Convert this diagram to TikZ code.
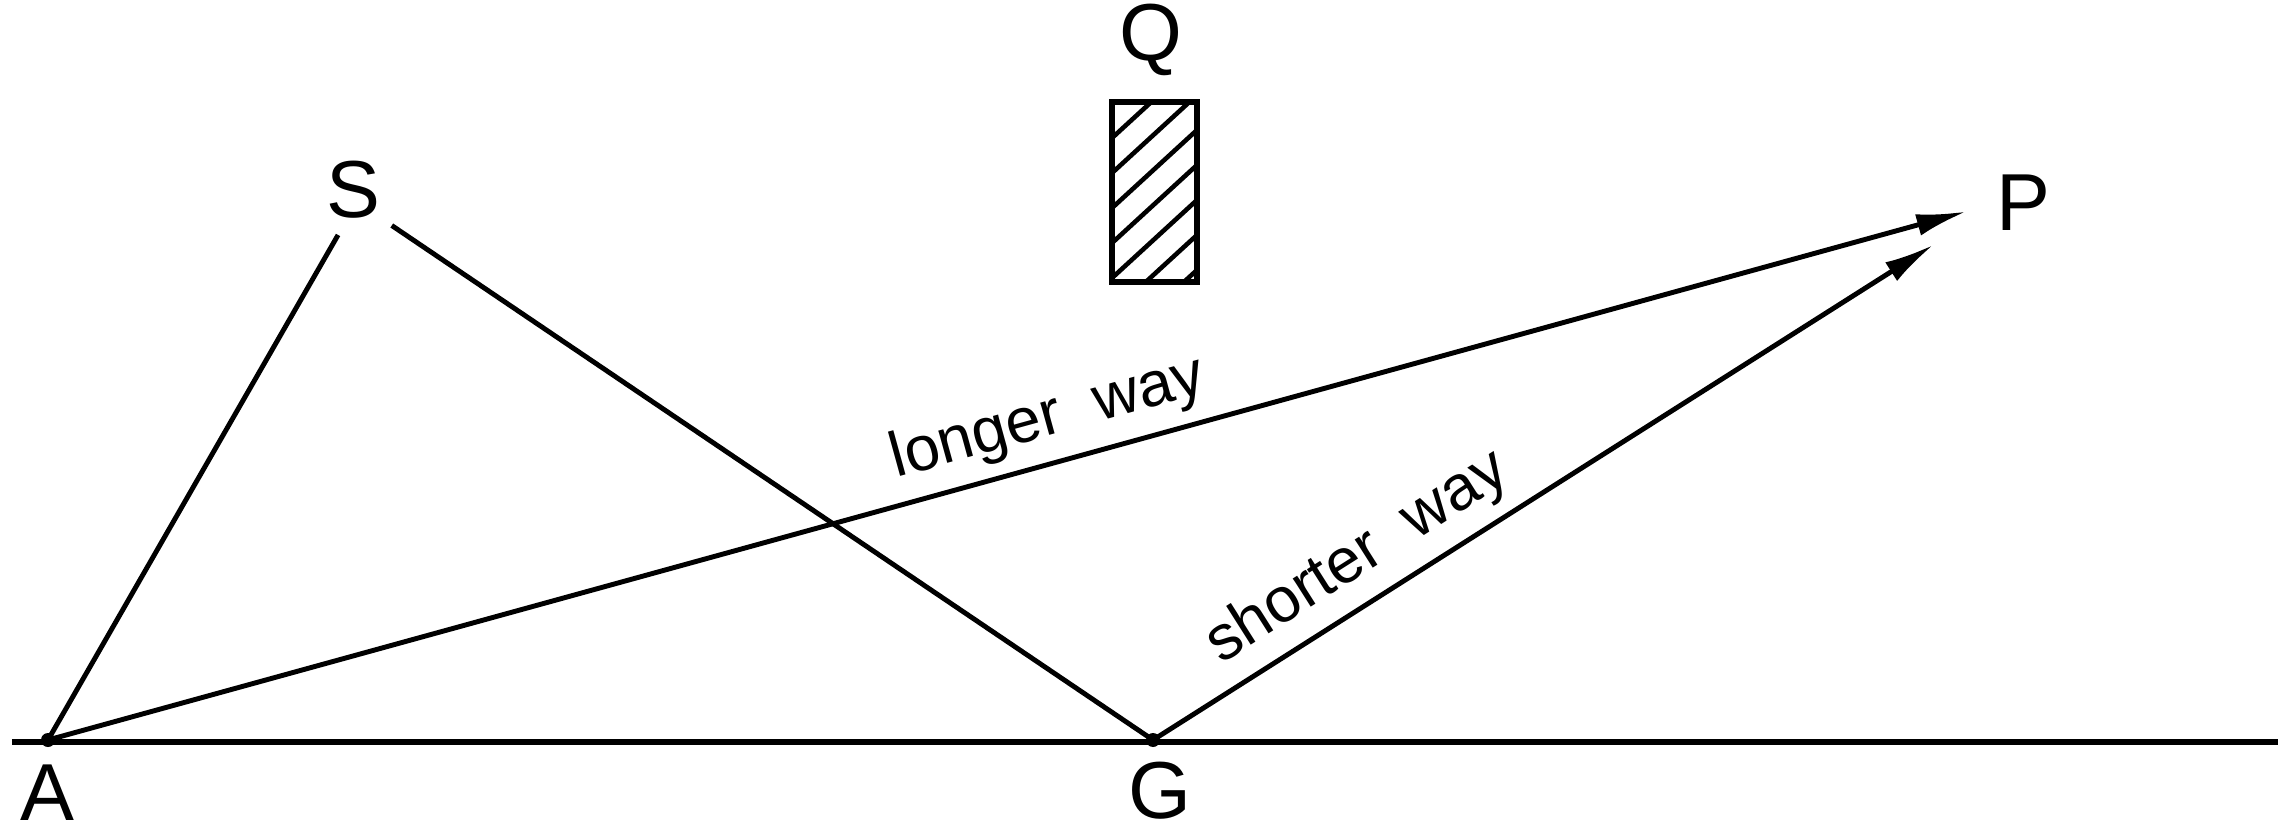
\documentclass[tikz,border=0pt]{standalone}
\usepackage{fontspec}
\setmainfont{Liberation Sans}
\usetikzlibrary{arrows.meta}

\begin{document}
\begin{tikzpicture}[
  pt/.style={font=\fontsize{23}{23}\selectfont,inner sep=0pt},
  way/.style={font=\fontsize{18}{18}\selectfont,sloped,above},
  ray/.style={line width=1.4pt},
  tip/.style={-{Latex[length=5mm,width=2.2mm]}}]
\useasboundingbox (0,0) rectangle (22.90,8.34);
\coordinate (A) at (0.48,0.94);
\coordinate (G) at (11.53,0.94);
\coordinate (s) at (3.57,6.32);
\coordinate (p) at (20.01,6.32);
\node[pt] (a) at (0.47,0.41) {A};
\node[pt] (g) at (11.60,0.43) {G};
\node[pt] (S) at (3.53,6.44) {S};
\node[pt] (P) at (20.23,6.31) {P};
\node[pt] (Q) at (11.51,7.94) {Q};
\draw[line width=1.8pt] (0.12,0.92) -- (22.78,0.92);
\draw[ray,shorten <=0.38cm] (s) -- (A);
\draw[ray,shorten <=0.42cm] (s) -- (G);
\draw[ray,tip,shorten >=0.36cm] (A) -- (p) node[way,pos=0.518]{longer\ \ way};
\draw[ray,tip,shorten >=0.8cm] (G) -- (p) node[way,pos=0.269]{shorter\ \ way};
\fill (A) circle (0.07);
\fill (G) circle (0.07);
\begin{scope}
  \clip (11.12,5.52) rectangle (11.97,7.32);
  \foreach \k in {-3,...,4}
    \draw[line width=1.3pt] (11.12,5.91+0.35*\k) -- ++(0.85,0.78);
\end{scope}
\draw[line width=1.8pt] (11.12,5.52) rectangle (11.97,7.32);
\end{tikzpicture}
\end{document}
